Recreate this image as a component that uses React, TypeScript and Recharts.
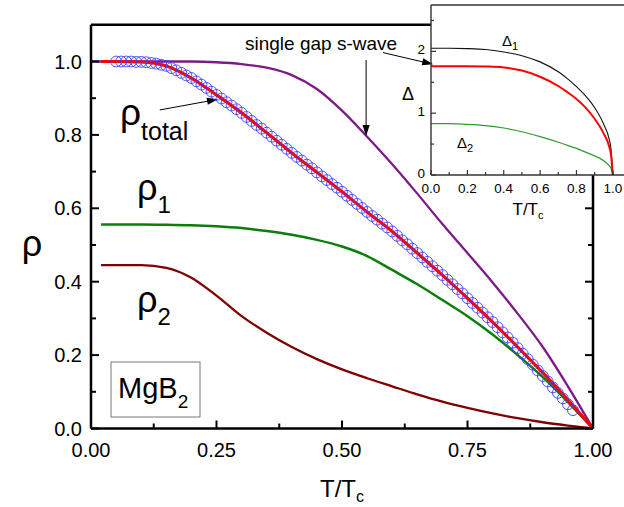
import React from 'react';
import { ComposedChart, LineChart, Line, Scatter, XAxis, YAxis, ReferenceLine } from 'recharts';

const FONT = "'Liberation Sans', Arial, Helvetica, sans-serif";

// ---- main panel data (superfluid density vs T/Tc) ----
const T_MAIN = [0.02, 0.05, 0.1, 0.15, 0.2, 0.25, 0.3, 0.35, 0.4, 0.45, 0.5, 0.55, 0.6, 0.65, 0.7, 0.75, 0.8, 0.85, 0.9, 0.95, 1.0];
const RHO_TOTAL = [1.0, 1.0, 0.999, 0.988, 0.955, 0.909, 0.86, 0.806, 0.751, 0.698, 0.645, 0.59, 0.537, 0.478, 0.418, 0.355, 0.29, 0.222, 0.152, 0.078, 0];
const RHO_1 = [0.556, 0.556, 0.556, 0.555, 0.554, 0.551, 0.546, 0.538, 0.528, 0.514, 0.496, 0.47, 0.432, 0.393, 0.35, 0.306, 0.256, 0.2, 0.14, 0.072, 0];
const RHO_2 = [0.445, 0.445, 0.445, 0.438, 0.411, 0.362, 0.306, 0.261, 0.222, 0.189, 0.161, 0.137, 0.115, 0.093, 0.073, 0.056, 0.041, 0.028, 0.017, 0.008, 0];

const T_SWAVE = [0, 0.1, 0.2, 0.25, 0.3, 0.35, 0.4, 0.45, 0.5, 0.55, 0.6, 0.65, 0.7, 0.75, 0.8, 0.85, 0.9, 0.95, 1.0];
const RHO_SWAVE = [1, 1, 1, 0.998, 0.993, 0.983, 0.963, 0.925, 0.866, 0.795, 0.72, 0.64, 0.557, 0.478, 0.398, 0.313, 0.222, 0.115, 0];

const T_EXP = [
  0.05, 0.06, 0.07, 0.08, 0.09, 0.1, 0.11, 0.12, 0.13, 0.14, 0.15, 0.16, 0.17, 0.18, 0.19, 0.2,
  0.21, 0.22, 0.23, 0.24, 0.25, 0.26, 0.27, 0.28, 0.29, 0.3, 0.31, 0.32, 0.33, 0.34, 0.35,
  0.36, 0.37, 0.38, 0.39, 0.4, 0.41, 0.42, 0.43, 0.44, 0.45, 0.46, 0.47, 0.48, 0.49, 0.5,
  0.51, 0.52, 0.53, 0.54, 0.55, 0.56, 0.57, 0.58, 0.59, 0.6, 0.61, 0.62, 0.63, 0.64, 0.65,
  0.66, 0.67, 0.68, 0.69, 0.7, 0.71, 0.72, 0.73, 0.74, 0.75, 0.76, 0.77, 0.78, 0.79, 0.8,
  0.81, 0.82, 0.83, 0.84, 0.85, 0.86, 0.87, 0.88, 0.89, 0.9, 0.91, 0.92, 0.93, 0.94, 0.95, 0.96,
];
const RHO_EXP = [
  1.0, 1.0, 1.0, 1.0, 0.999, 0.999, 0.998, 0.996, 0.994, 0.991, 0.988, 0.982, 0.976, 0.969, 0.962, 0.955,
  0.946, 0.937, 0.928, 0.918, 0.909, 0.899, 0.889, 0.88, 0.87, 0.86, 0.849, 0.838, 0.827, 0.817, 0.806,
  0.795, 0.784, 0.773, 0.762, 0.751, 0.74, 0.73, 0.719, 0.709, 0.698, 0.687, 0.677, 0.666, 0.656, 0.645,
  0.634, 0.623, 0.612, 0.601, 0.59, 0.579, 0.569, 0.558, 0.548, 0.537, 0.525, 0.513, 0.502, 0.49, 0.478,
  0.466, 0.454, 0.442, 0.43, 0.418, 0.405, 0.393, 0.38, 0.368, 0.355, 0.342, 0.329, 0.316, 0.303, 0.29,
  0.276, 0.262, 0.248, 0.234, 0.219, 0.204, 0.189, 0.174, 0.158, 0.143, 0.128, 0.112, 0.097, 0.082, 0.066, 0.05,
];

// ---- inset data (gap vs T/Tc) ----
const T_GAP = [0, 0.1, 0.2, 0.3, 0.4, 0.5, 0.6, 0.7, 0.75, 0.8, 0.85, 0.9, 0.95, 0.98, 0.99, 1.0];
const DELTA_1 = [2.05, 2.05, 2.045, 2.03, 1.99, 1.93, 1.83, 1.67, 1.56, 1.43, 1.28, 1.09, 0.82, 0.58, 0.42, 0];
const DELTA_BCS = [1.76, 1.76, 1.76, 1.755, 1.74, 1.69, 1.59, 1.44, 1.34, 1.23, 1.09, 0.91, 0.67, 0.46, 0.33, 0];
const DELTA_2 = [0.83, 0.83, 0.82, 0.8, 0.76, 0.7, 0.62, 0.53, 0.48, 0.43, 0.37, 0.31, 0.23, 0.15, 0.11, 0];

const MAIN_X_TICKS = [0, 0.125, 0.25, 0.375, 0.5, 0.625, 0.75, 0.875, 1];
const MAIN_Y_TICKS = [0, 0.1, 0.2, 0.3, 0.4, 0.5, 0.6, 0.7, 0.8, 0.9, 1.0];
const INSET_X_TICKS = [0, 0.1, 0.2, 0.3, 0.4, 0.5, 0.6, 0.7, 0.8, 0.9, 1.0, 1.1];
const INSET_Y_TICKS = [0, 0.5, 1, 1.5, 2, 2.5];

const zip = (xs: number[], ys: number[]) => xs.map((t, i) => ({ t, v: ys[i] }));

const isMult = (v: number, step: number) => Math.abs(v / step - Math.round(v / step)) < 1e-6;

const makeXTick = (side: 'bottom' | 'top', majorStep: number, majorLen: number, minorLen: number, fontSize: number, digits: number, labelOffset: number, sw: number, color: string) => (props: any) => {
  const { x, y, payload } = props;
  const v = payload.value as number;
  const major = isMult(v, majorStep);
  const len = major ? majorLen : minorLen;
  const dir = side === 'bottom' ? -1 : 1;
  return (
    <g>
      <line x1={x} y1={y} x2={x} y2={y + dir * len} stroke={color} strokeWidth={sw} />
      {side === 'bottom' && major ? (
        <text x={x} y={y + labelOffset} textAnchor="middle" fontSize={fontSize} fontFamily={FONT} fill="#000">
          {v.toFixed(digits)}
        </text>
      ) : null}
    </g>
  );
};

const makeYTick = (side: 'left' | 'right', majorStep: number, majorLen: number, minorLen: number, fontSize: number, digits: number, labelOffset: number, sw: number, color: string, dy: string) => (props: any) => {
  const { x, y, payload } = props;
  const v = payload.value as number;
  const major = isMult(v, majorStep);
  const len = major ? majorLen : minorLen;
  const dir = side === 'left' ? 1 : -1;
  return (
    <g>
      <line x1={x} y1={y} x2={x + dir * len} y2={y} stroke={color} strokeWidth={sw} />
      {side === 'left' && major ? (
        <text x={x - labelOffset} y={y} dy={dy} textAnchor="end" fontSize={fontSize} fontFamily={FONT} fill="#000">
          {v.toFixed(digits)}
        </text>
      ) : null}
    </g>
  );
};

const arrowShape = (props: any) => {
  const x1 = Number(props.x1), y1 = Number(props.y1), x2 = Number(props.x2), y2 = Number(props.y2);
  const dx = x2 - x1, dy = y2 - y1;
  const L = Math.hypot(dx, dy) || 1;
  const ux = dx / L, uy = dy / L;
  const hl = 11, hw = 3.6;
  const bx = x2 - ux * hl, by = y2 - uy * hl;
  return (
    <g>
      <line x1={x1} y1={y1} x2={bx + ux * 2} y2={by + uy * 2} stroke="#000" strokeWidth={1} />
      <polygon points={`${x2},${y2} ${bx - uy * hw},${by + ux * hw} ${bx + uy * hw},${by - ux * hw}`} fill="#000" />
    </g>
  );
};

const circleShape = (p: any) => <circle cx={p.cx} cy={p.cy} r={5.4} fill="none" stroke="#3d3dff" strokeWidth={0.9} />;

const MAIN_AXIS = { stroke: '#000', strokeWidth: 2.5 };
const INSET_AXIS = { stroke: '#333', strokeWidth: 1.4 };

export default function App() {
  return (
    <div style={{ position: 'relative', width: 624, height: 507, overflow: 'hidden', background: '#fff' }}>
      <style>{'body{margin:0;}'}</style>
      <div style={{ position: 'absolute', left: 0, top: 0 }}>
        <ComposedChart width={624} height={507} margin={{ top: 23.8, right: 30, bottom: 48.5, left: 51 }}>
          <XAxis xAxisId={0} dataKey="t" type="number" domain={[0, 1]} ticks={MAIN_X_TICKS} interval={0} tickSize={0} tickMargin={0} height={30} axisLine={MAIN_AXIS} tickLine={false} allowDataOverflow tick={makeXTick('bottom', 0.25, 8, 5, 20, 2, 28.5, 2, '#000')} />
          <XAxis xAxisId="top" orientation="top" type="number" domain={[0, 1]} ticks={MAIN_X_TICKS} interval={0} tickSize={0} tickMargin={0} height={1} axisLine={MAIN_AXIS} tickLine={false} allowDataOverflow tick={makeXTick('top', 0.25, 8, 5, 20, 2, 0, 2, '#000')} />
          <YAxis yAxisId={0} type="number" domain={[0, 1.1]} ticks={MAIN_Y_TICKS} interval={0} tickSize={0} tickMargin={0} width={40} axisLine={MAIN_AXIS} tickLine={false} allowDataOverflow tick={makeYTick('left', 0.2, 8, 5, 20, 1, 9, 2, '#000', '0.35em')} />
          <YAxis yAxisId="right" orientation="right" type="number" domain={[0, 1.1]} ticks={MAIN_Y_TICKS} interval={0} tickSize={0} tickMargin={0} width={1} axisLine={MAIN_AXIS} tickLine={false} allowDataOverflow tick={makeYTick('right', 0.2, 8, 5, 20, 1, 0, 2, '#000', '0.35em')} />
          <Scatter data={zip(T_EXP, RHO_EXP)} dataKey="v" shape={circleShape} isAnimationActive={false} />
          <Line data={zip(T_MAIN, RHO_2)} dataKey="v" type="monotone" stroke="#800000" strokeWidth={2.3} dot={false} isAnimationActive={false} />
          <Line data={zip(T_MAIN, RHO_1)} dataKey="v" type="monotone" stroke="#0a7d0a" strokeWidth={2.5} dot={false} isAnimationActive={false} />
          <Line data={zip(T_SWAVE, RHO_SWAVE)} dataKey="v" type="monotone" stroke="#7d1a87" strokeWidth={2.3} dot={false} isAnimationActive={false} />
          <Line data={zip(T_MAIN, RHO_TOTAL)} dataKey="v" type="monotone" stroke="#ff0000" strokeWidth={3.2} dot={false} isAnimationActive={false} />
          <ReferenceLine ifOverflow="visible" segment={[{ x: 0.137, y: 0.868 }, { x: 0.253, y: 0.897 }]} shape={arrowShape} />
          <ReferenceLine ifOverflow="visible" segment={[{ x: 0.548, y: 1.004 }, { x: 0.548, y: 0.797 }]} shape={arrowShape} />
        </ComposedChart>
      </div>
      <div style={{ position: 'absolute', left: 431, top: 5, width: 200, height: 170, background: '#fff' }} />
      <div style={{ position: 'absolute', left: 370, top: 0 }}>
        <LineChart width={271} height={200} margin={{ top: 4, right: 10, bottom: 5, left: 31 }}>
          <XAxis xAxisId={0} dataKey="t" type="number" domain={[0, 1.1]} ticks={INSET_X_TICKS} interval={0} tickSize={0} tickMargin={0} height={20} axisLine={INSET_AXIS} tickLine={false} allowDataOverflow tick={makeXTick('bottom', 0.2, 5, 3, 13.5, 1, 17.5, 1.2, '#333')} />
          <XAxis xAxisId="top" orientation="top" type="number" domain={[0, 1.1]} ticks={INSET_X_TICKS} interval={0} tickSize={0} tickMargin={0} height={1} axisLine={INSET_AXIS} tickLine={false} allowDataOverflow tick={makeXTick('top', 0.2, 5, 3, 14, 1, 0, 1.2, '#333')} />
          <YAxis yAxisId={0} type="number" domain={[0, 2.75]} ticks={INSET_Y_TICKS} interval={0} tickSize={0} tickMargin={0} width={30} axisLine={INSET_AXIS} tickLine={false} allowDataOverflow tick={makeYTick('left', 1, 5, 3, 13.5, 0, 6, 1.2, '#333', '0.2em')} />
          <Line data={zip(T_GAP, DELTA_2)} dataKey="v" type="monotone" stroke="#2e9a2e" strokeWidth={1.2} dot={false} isAnimationActive={false} />
          <Line data={zip(T_GAP, DELTA_1)} dataKey="v" type="monotone" stroke="#111" strokeWidth={1.1} dot={false} isAnimationActive={false} />
          <Line data={zip(T_GAP, DELTA_BCS)} dataKey="v" type="monotone" stroke="#ff0000" strokeWidth={2} dot={false} isAnimationActive={false} />
          <ReferenceLine ifOverflow="visible" segment={[{ x: -0.264, y: 1.98 }, { x: 0.012, y: 1.79 }]} shape={arrowShape} />
        </LineChart>
      </div>
      <svg width={624} height={507} style={{ position: 'absolute', left: 0, top: 0, pointerEvents: 'none' }} fontFamily={FONT}>
        <text x={32} y={256} fontSize={36} textAnchor="middle" fill="#000">ρ</text>
        <text x={342} y={497} fontSize={24} textAnchor="middle" fill="#000">T/T<tspan fontSize={16} dy={5}>c</tspan></text>
        <text x={120} y={125} fontSize={37} fill="#000">ρ<tspan fontSize={25} dy={15}>total</tspan></text>
        <text x={137} y={200} fontSize={36} fill="#000">ρ<tspan fontSize={24} dy={13}>1</tspan></text>
        <text x={137} y={312} fontSize={36} fill="#000">ρ<tspan fontSize={24} dy={13}>2</tspan></text>
        <rect x={111} y={362} width={89} height={55} fill="none" stroke="#777" strokeWidth={1} />
        <text x={118} y={398} fontSize={29} fill="#000">MgB<tspan fontSize={19} dy={10}>2</tspan></text>
        <text x={245} y={50} fontSize={19} fill="#000">single gap s-wave</text>
        <text x={408} y={100} fontSize={18} textAnchor="middle" fill="#000">Δ</text>
        <text x={502} y={46} fontSize={15} fill="#000">Δ<tspan fontSize={11} dy={4}>1</tspan></text>
        <text x={457} y={148} fontSize={15} fill="#000">Δ<tspan fontSize={11} dy={4}>2</tspan></text>
        <text x={528} y={215} fontSize={17} textAnchor="middle" fill="#000">T/T<tspan fontSize={11} dy={4}>c</tspan></text>
      </svg>
    </div>
  );
}
